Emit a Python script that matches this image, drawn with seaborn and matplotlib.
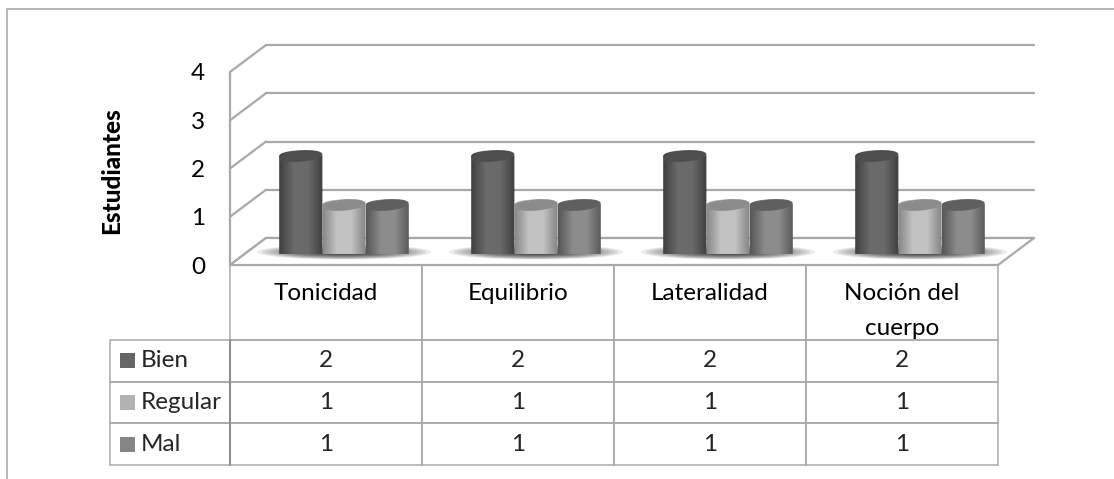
import numpy as np
import pandas as pd
import matplotlib
matplotlib.use("Agg")
import matplotlib.pyplot as plt
import seaborn as sns
from matplotlib.lines import Line2D
from matplotlib.patches import Ellipse, Rectangle, PathPatch, Polygon
from matplotlib.path import Path
from matplotlib.transforms import Affine2D, IdentityTransform, blended_transform_factory

# ---- data ----
categories = ["Tonicidad", "Equilibrio", "Lateralidad", "Noción del\ncuerpo"]
series_names = ["Bien", "Regular", "Mal"]
bien = [2, 2, 2, 2]
regular = [1, 1, 1, 1]
mal = [1, 1, 1, 1]
y_ticks = [0, 1, 2, 3, 4]
y_title = "Estudiantes"

# ---- style ----
key_colors = ["#666666", "#b2b2b2", "#858585"]
edge_colors = ["#3f3f3f", "#858585", "#565656"]
mid_colors = ["#6a6a6a", "#c2c2c2", "#8c8c8c"]
top_colors = ["#4e4e4e", "#8c8c8c", "#5f5f5f"]
LINE = "#a9a9a9"
W, H = 1114, 479

sns.set_theme(style="white")
plt.rcParams["font.family"] = ["Lato", "DejaVu Sans"]
FS = 17.5

fig = plt.figure(figsize=(W / 100, H / 100), dpi=100, facecolor="white")


def box(x0, x1, ytop, ybot):
    return [x0 / W, 1 - ybot / H, (x1 - x0) / W, (ybot - ytop) / H]


# outer chart frame
for xs, ys in [([7, 7], [9, H]), ([7, W], [9, 9])]:
    fig.add_artist(Line2D([x / W for x in xs], [1 - y / H for y in ys],
                          color="#b5b5b5", lw=1.4))

# ---- wall axes: front plane, carries the value ticks, the table ----
ax = fig.add_axes(box(230, 998, 72, 265))
ax.set_xlim(-0.5, 3.5)
ax.set_ylim(0, 4)
ax.patch.set_visible(False)
for s in ax.spines.values():
    s.set_visible(False)
ax.set_xticks([])
ax.set_yticks(y_ticks)
ax.tick_params(axis="y", length=0, pad=18, labelsize=FS, labelcolor="black")
ax.set_ylabel(y_title, fontsize=FS, fontweight="black", color="black", va="center")
ax.yaxis.set_label_coords((112 - 230) / 768, 0.49)

back = ax.transData + Affine2D().translate(36, 27)
for v in y_ticks:
    ax.plot([-0.5, 3.5], [v, v], transform=back, color=LINE, lw=1.6, clip_on=False, zorder=1)
    p0 = ax.transData.transform((-0.5, v))
    ax.add_line(Line2D([p0[0], p0[0] + 36], [p0[1], p0[1] + 27], transform=IdentityTransform(),
                       color=LINE, lw=1.6, clip_on=False, zorder=1))
ax.plot([-0.5, -0.5], [0, 4], color=LINE, lw=1.6, clip_on=False, zorder=1)

# floor
p0 = ax.transData.transform((-0.5, 0))
p1 = ax.transData.transform((3.5, 0))
ax.add_patch(Polygon([p0, p1, (p1[0] + 36, p1[1] + 27), (p0[0] + 36, p0[1] + 27)], closed=True,
                     transform=IdentityTransform(), facecolor="white", edgecolor=LINE, lw=1.6,
                     clip_on=False, zorder=1.5))

# data table (the bbox covers the value grid; the row labels hang to its left)
rows = [bien, regular, mal]
tbl = ax.table(cellText=[[str(v) for v in r] for r in rows],
               colLabels=[""] * 4, cellLoc="center",
               bbox=[0, (265 - 465) / 193, 1, 200 / 193])
for i, name in enumerate(series_names):
    tbl.add_cell(i + 1, -1, width=120 / 768, height=41.67 / 193, text=name, loc="left")
tbl.auto_set_font_size(False)
tbl.set_fontsize(FS)
for (r, c), cell in tbl.get_celld().items():
    cell.set_edgecolor(LINE)
    cell.set_linewidth(1.1)
    cell.set_facecolor("none")
    cell.set_width(120 / 768 if c == -1 else 0.25)
    cell.set_height(75 / 193 if r == 0 else 41.67 / 193)
    if c == -1:
        cell.PAD = 31 / 120
ax.add_line(Line2D([-0.5, -0.5], [(265 - 340) / 193, (265 - 465) / 193],
                   transform=blended_transform_factory(ax.transData, ax.transAxes),
                   color="#8a8a8a", lw=1.3, clip_on=False, zorder=5))
for i, name in enumerate(categories):
    ax.text(i, (265 - 283) / 193, name, transform=ax.get_xaxis_transform(), ha="center", va="top",
            fontsize=FS, color="black", linespacing=1.85)

# legend keys inside the table
for i in range(len(series_names)):
    yc = 340 + 41.67 * (i + 0.5)
    fig.add_artist(Rectangle((120 / W, 1 - (yc + 7.5) / H), 15 / W, 15 / H,
                             transform=fig.transFigure, facecolor=key_colors[i], edgecolor="none"))

# ---- bar axes: shifted into the depth of the 3-D box ----
df = pd.DataFrame({
    "categoria": categories * 3,
    "serie": np.repeat(series_names, 4),
    "valor": bien + regular + mal,
})
bx = fig.add_axes(box(248, 1016, 58, 254))
sns.barplot(data=df, x="categoria", y="valor", hue="serie", hue_order=series_names,
            order=categories, palette=key_colors, width=0.675, legend=False, ax=bx, zorder=3)
bx.set_xlim(-0.5, 3.5)
bx.set_ylim(0, 4)
bx.axis("off")

RY = 5.6  # half height of the cylinder ellipse
TILT = 5
# soft shadow on the floor
for i in range(len(categories)):
    c = bx.transData.transform((i, 0))
    for f in np.linspace(1, 0.3, 14):
        bx.add_patch(Ellipse((c[0], c[1] + 2), 174 * f, 15 * f, transform=IdentityTransform(),
                             facecolor="black", edgecolor="none", alpha=0.08,
                             clip_on=False, zorder=2))

for h, container in enumerate(bx.containers):
    cmap = matplotlib.colors.LinearSegmentedColormap.from_list(
        "c", [edge_colors[h], mid_colors[h], mid_colors[h], edge_colors[h]])
    for rect in container:
        rect.set_visible(False)
        x0, x1 = rect.get_x(), rect.get_x() + rect.get_width()
        v = rect.get_height()
        im = bx.imshow(np.linspace(0, 1, 64)[None, :], extent=(x0, x1, -0.2, v + 0.2), aspect="auto",
                       cmap=cmap, vmin=0, vmax=1, zorder=3 + h * 0.1, origin="lower")
        # cylinder outline in pixels
        (px0, py0), (px1, py1) = bx.transData.transform([(x0, 0), (x1, v)])
        rx = (px1 - px0) / 2
        cx = (px0 + px1) / 2
        t = np.linspace(np.pi, 2 * np.pi, 40)
        bottom = np.c_[cx + rx * np.cos(t), py0 + RY * np.sin(t)]
        top = np.c_[cx - rx * np.cos(t), py1 - RY * np.sin(t)]
        pts = np.vstack([bottom, top, bottom[:1]])
        clip = PathPatch(Path(pts, closed=True), transform=IdentityTransform())
        im.set_clip_path(clip)
        bx.add_patch(Ellipse((cx, py1), 2 * rx, 2 * RY, angle=TILT, transform=IdentityTransform(),
                             facecolor=top_colors[h], edgecolor="none", clip_on=False,
                             zorder=3.05 + h * 0.1))
bx.set_xlim(-0.5, 3.5)
bx.set_ylim(0, 4)

fig.savefig("out.png", dpi=100, facecolor="white")
